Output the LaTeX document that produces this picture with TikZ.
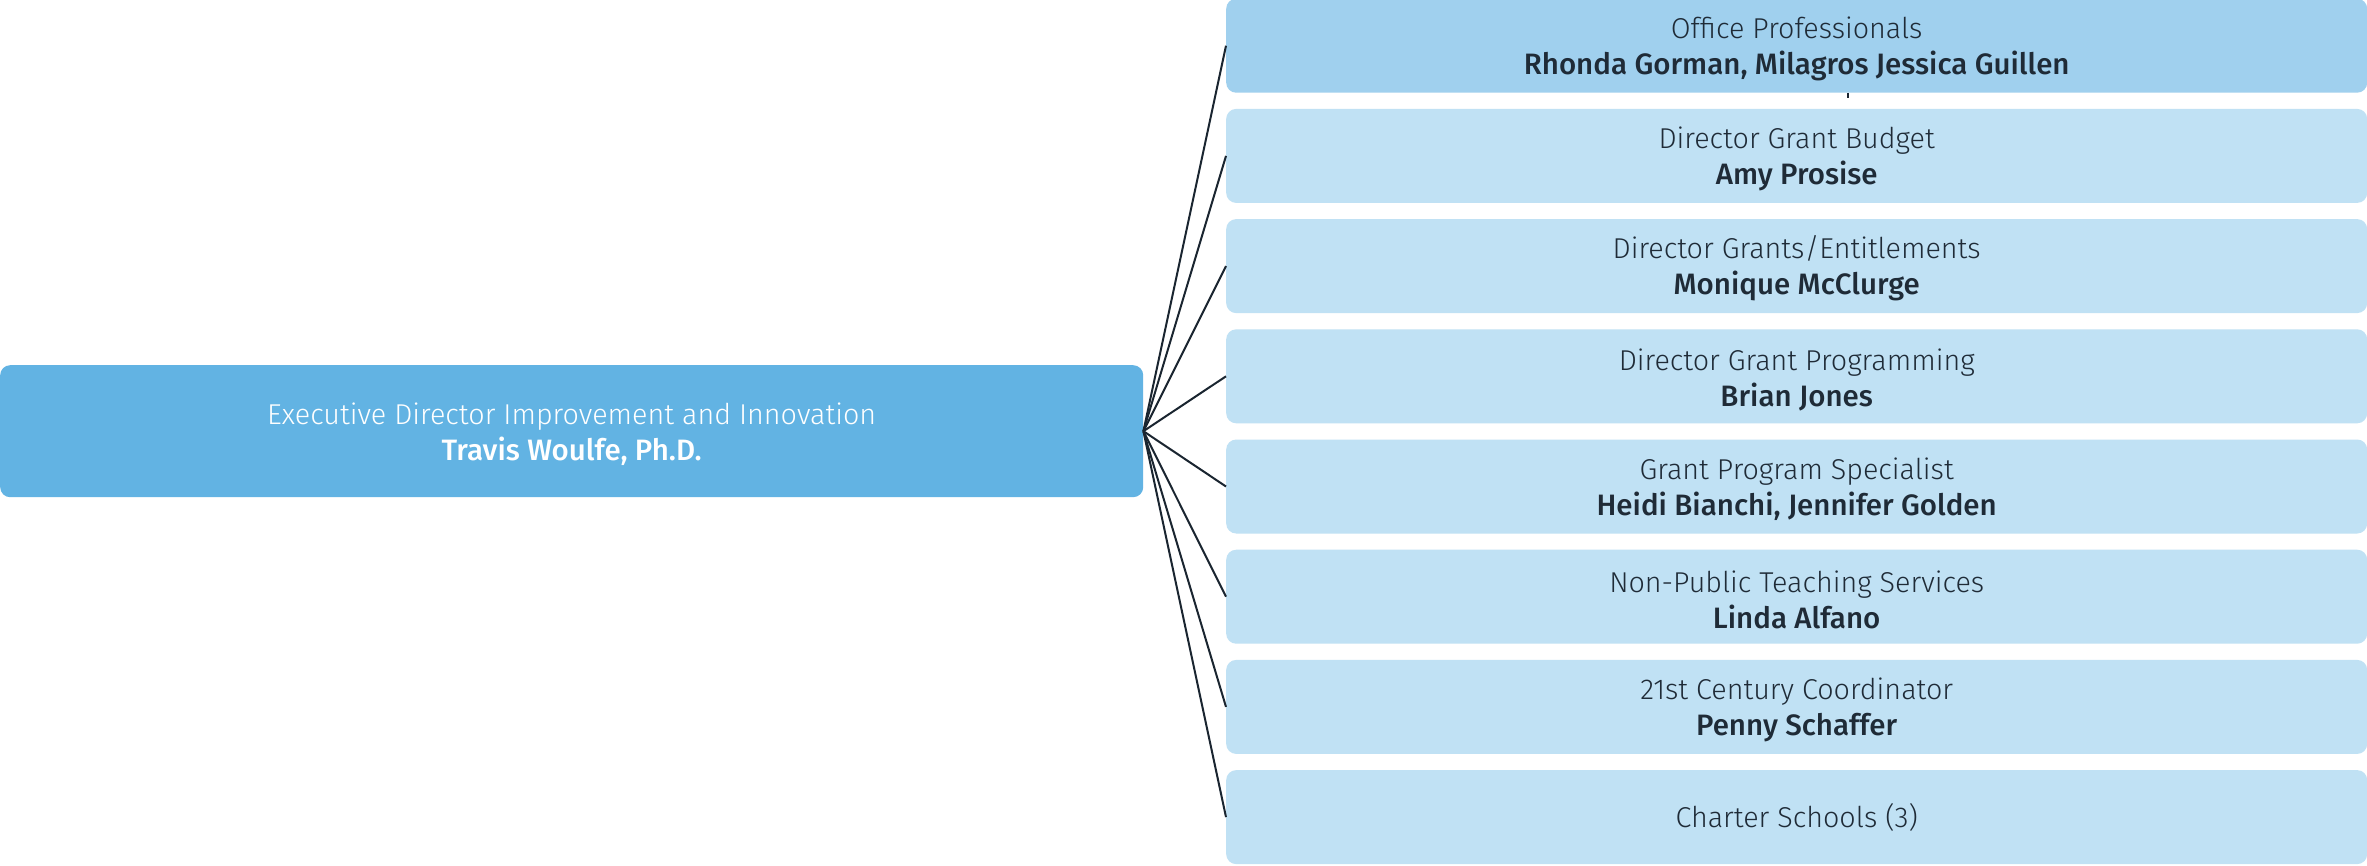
\documentclass[tikz,border=0pt]{standalone}
\usepackage{fontspec}
\newfontfamily\lightf{Fira Sans Light}
\newfontfamily\medf{Fira Sans Medium}
\definecolor{mainblue}{HTML}{62B3E3}
\definecolor{topblue}{HTML}{A0D0EE}
\definecolor{boxblue}{HTML}{C0E1F4}
\definecolor{ink}{HTML}{1F2B37}
\definecolor{linec}{HTML}{1A2530}
\tikzset{
  basebox/.style={rectangle, rounded corners=10pt, inner sep=0pt, anchor=north west,
    align=center, font=\fontsize{29.5}{36}\selectfont},
  mainbox/.style={basebox, fill=mainblue, text=white, minimum width=1143pt, minimum height=132pt},
  rbox/.style={basebox, fill=boxblue, text=ink, minimum width=1141pt, minimum height=94pt},
  topbox/.style={rbox, fill=topblue},
  conn/.style={draw=linec, line width=2pt}
}
\newcommand{\twol}[2]{\rule{0pt}{28pt}{\lightf\fontsize{28.7}{36}\selectfont #1}\\{\medf #2}}
\begin{document}
\begin{tikzpicture}[x=1pt,y=-1pt]
\useasboundingbox[fill=white] (0,0) rectangle (2367,865);
\node[mainbox] (exec) at (0,365) {\twol{Executive Director Improvement and Innovation}{Travis Woulfe, Ph.D.}};
\node[topbox] (b1) at (1226,-1.5) {\twol{Office Professionals}{Rhonda Gorman, Milagros Jessica Guillen}};
\node[rbox] (b2) at (1226,108.7) {\twol{Director Grant Budget}{Amy Prosise}};
\node[rbox] (b3) at (1226,218.9) {\twol{Director Grants/Entitlements}{Monique McClurge}};
\node[rbox] (b4) at (1226,329.1) {\twol{Director Grant Programming}{Brian Jones}};
\node[rbox] (b5) at (1226,439.3) {\twol{Grant Program Specialist}{Heidi Bianchi, Jennifer Golden}};
\node[rbox] (b6) at (1226,549.5) {\twol{Non-Public Teaching Services}{Linda Alfano}};
\node[rbox] (b7) at (1226,659.7) {\twol{21st Century Coordinator}{Penny Schaffer}};
\node[rbox] (b8) at (1226,769.9) {{\lightf\fontsize{28.7}{36}\selectfont Charter Schools (3)}};
\foreach \b in {b1,b2,b3,b4,b5,b6,b7,b8}{
  \draw[conn] (exec.east) -- (\b.west);
}
\draw[conn] ([xshift=51pt]b1.south) -- ++(0,5);
\end{tikzpicture}
\end{document}
